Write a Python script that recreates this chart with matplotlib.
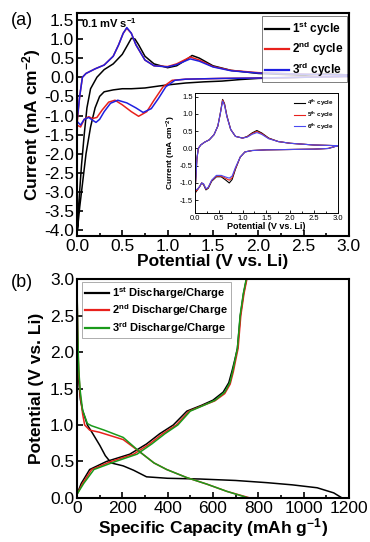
import matplotlib
matplotlib.use("Agg")
import matplotlib.pyplot as plt
from matplotlib.ticker import MultipleLocator

plt.rcParams['font.family'] = ['Liberation Sans', 'DejaVu Sans']
plt.rcParams['mathtext.fontset'] = 'custom'
plt.rcParams['mathtext.rm'] = 'Liberation Sans:bold'
plt.rcParams['mathtext.it'] = 'Liberation Sans:bold'
plt.rcParams['mathtext.bf'] = 'Liberation Sans:bold'
plt.rcParams['mathtext.default'] = 'regular'

# ---------------- (a) CV, cycles 1-3 ----------------
c1_cat_v = [3.0, 2.5, 2.0, 1.8, 1.6, 1.4, 1.2, 1.0, 0.9, 0.75, 0.6, 0.5, 0.4, 0.3, 0.25, 0.2, 0.15, 0.1, 0.06, 0.03, 0.005]
c1_cat_i = [0.03, 0.0, -0.03, -0.06, -0.1, -0.12, -0.15, -0.2, -0.23, -0.28, -0.3, -0.3, -0.33, -0.38, -0.5, -0.8, -1.3, -2.0, -2.8, -3.4, -4.0]
c1_ano_v = [0.005, 0.02, 0.05, 0.08, 0.11, 0.15, 0.22, 0.3, 0.4, 0.5, 0.56, 0.6, 0.64, 0.68, 0.75, 0.85, 1.0, 1.1, 1.2, 1.27, 1.35, 1.5, 1.7, 2.0, 2.5, 2.75, 3.0]
c1_ano_i = [-4.0, -3.3, -2.3, -1.5, -0.8, -0.3, 0.0, 0.2, 0.35, 0.6, 0.85, 1.02, 1.0, 0.85, 0.55, 0.35, 0.25, 0.3, 0.45, 0.57, 0.5, 0.3, 0.18, 0.1, 0.05, 0.09, 0.06]

c2_cat_v = [3.0, 2.0, 1.6, 1.2, 1.05, 0.95, 0.85, 0.77, 0.68, 0.6, 0.5, 0.42, 0.35, 0.28, 0.22, 0.17, 0.13, 0.08, 0.04, 0.0]
c2_cat_i = [0.02, -0.02, -0.03, -0.05, -0.08, -0.25, -0.6, -0.9, -1.02, -0.9, -0.72, -0.6, -0.65, -0.85, -1.05, -1.08, -1.03, -1.1, -1.3, -1.25]
c2_ano_v = [0.0, 0.03, 0.06, 0.1, 0.2, 0.3, 0.4, 0.46, 0.51, 0.55, 0.6, 0.65, 0.75, 0.85, 1.0, 1.1, 1.25, 1.35, 1.5, 1.7, 2.0, 2.5, 3.0]
c2_ano_i = [-1.25, -0.5, 0.0, 0.1, 0.22, 0.32, 0.55, 0.85, 1.15, 1.28, 1.15, 0.85, 0.45, 0.3, 0.28, 0.35, 0.53, 0.45, 0.28, 0.18, 0.12, 0.08, 0.06]

c3_cat_v = [3.0, 2.0, 1.6, 1.2, 1.08, 0.98, 0.9, 0.82, 0.73, 0.65, 0.55, 0.45, 0.37, 0.3, 0.25, 0.21, 0.17, 0.13, 0.08, 0.04, 0.0]
c3_cat_i = [0.02, -0.02, -0.03, -0.05, -0.08, -0.25, -0.55, -0.82, -0.92, -0.8, -0.67, -0.6, -0.68, -0.9, -1.1, -1.18, -1.12, -1.05, -1.1, -1.25, -1.15]
c3_ano_v = [0.0, 0.03, 0.06, 0.1, 0.2, 0.3, 0.4, 0.46, 0.51, 0.55, 0.6, 0.65, 0.75, 0.85, 1.0, 1.1, 1.25, 1.35, 1.5, 1.7, 2.0, 2.5, 3.0]
c3_ano_i = [-1.15, -0.5, 0.0, 0.1, 0.22, 0.32, 0.55, 0.85, 1.15, 1.3, 1.15, 0.85, 0.45, 0.3, 0.27, 0.33, 0.48, 0.42, 0.27, 0.17, 0.11, 0.08, 0.06]

cv_labels = ['1$^{st}$ cycle', '2$^{nd}$ cycle', '3$^{rd}$ cycle']
cv_colors = ['black', '#e8211c', '#1f1fe0']

# ---------------- inset, cycles 4-6 ----------------
c4_ano_v = [0.0, 0.02, 0.04, 0.07, 0.12, 0.2, 0.3, 0.4, 0.48, 0.53, 0.58, 0.62, 0.67, 0.75, 0.85, 1.0, 1.1, 1.2, 1.3, 1.4, 1.55, 1.75, 2.0, 2.5, 3.0]
c4_ano_i = [-1.3, -0.8, -0.3, 0.0, 0.1, 0.18, 0.25, 0.4, 0.65, 1.0, 1.42, 1.3, 0.95, 0.55, 0.35, 0.3, 0.35, 0.45, 0.52, 0.45, 0.3, 0.2, 0.15, 0.1, 0.08]
c4_cat_v = [3.0, 2.8, 2.5, 2.0, 1.5, 1.2, 1.05, 0.95, 0.85, 0.78, 0.72, 0.65, 0.55, 0.45, 0.35, 0.28, 0.23, 0.18, 0.14, 0.1, 0.05, 0.0]
c4_cat_i = [0.08, 0.0, -0.02, -0.03, -0.04, -0.06, -0.1, -0.25, -0.6, -0.9, -1.0, -0.92, -0.82, -0.82, -0.95, -1.15, -1.2, -1.05, -1.0, -1.1, -1.2, -1.3]
c5_ano_i = [-1.25, -0.8, -0.3, 0.0, 0.1, 0.18, 0.25, 0.4, 0.65, 1.0, 1.4, 1.28, 0.93, 0.55, 0.35, 0.3, 0.34, 0.43, 0.49, 0.43, 0.29, 0.2, 0.15, 0.1, 0.08]
c5_cat_i = [0.08, 0.0, -0.02, -0.03, -0.04, -0.06, -0.1, -0.25, -0.58, -0.85, -0.92, -0.87, -0.8, -0.8, -0.93, -1.13, -1.18, -1.03, -1.0, -1.1, -1.2, -1.25]
c6_ano_i = [-1.2, -0.8, -0.3, 0.0, 0.1, 0.18, 0.25, 0.4, 0.65, 1.0, 1.37, 1.25, 0.92, 0.55, 0.35, 0.3, 0.33, 0.41, 0.46, 0.41, 0.28, 0.2, 0.15, 0.1, 0.08]
c6_cat_i = [0.08, 0.0, -0.02, -0.03, -0.04, -0.06, -0.1, -0.25, -0.55, -0.8, -0.86, -0.83, -0.78, -0.78, -0.92, -1.12, -1.17, -1.02, -1.0, -1.1, -1.18, -1.2]
inset_labels = ['4$^{th}$ cycle', '5$^{th}$ cycle', '6$^{th}$ cycle']
inset_colors = ['black', '#e8211c', '#4a4af0']

# ---------------- (b) galvanostatic ----------------
d1_cap = [0, 3, 8, 15, 25, 46, 70, 101, 125, 151, 204, 250, 307, 400, 543, 700, 838, 950, 1060, 1133, 1170]
d1_v = [3.0, 2.2, 1.6, 1.35, 1.2, 1.0, 0.88, 0.72, 0.58, 0.48, 0.44, 0.38, 0.29, 0.27, 0.26, 0.24, 0.21, 0.18, 0.14, 0.07, 0.0]
ch1_cap = [0, 19, 56, 130, 233, 307, 365, 425, 485, 550, 600, 645, 670, 685, 697, 708, 721, 735, 748]
ch1_v = [0.05, 0.2, 0.39, 0.5, 0.6, 0.74, 0.88, 1.0, 1.19, 1.27, 1.34, 1.45, 1.58, 1.75, 1.9, 2.05, 2.5, 2.8, 3.0]

d2_cap = [0, 3, 8, 15, 25, 34, 56, 100, 204, 278, 340, 396, 484, 573, 662, 764]
d2_v = [3.0, 2.2, 1.7, 1.4, 1.15, 1.0, 0.93, 0.9, 0.8, 0.63, 0.48, 0.39, 0.28, 0.19, 0.09, 0.0]
ch2_cap = [0, 25, 65, 150, 250, 320, 378, 438, 495, 558, 608, 652, 676, 690, 701, 711, 723, 737, 750]
ch2_v = [0.05, 0.2, 0.39, 0.5, 0.6, 0.74, 0.88, 1.0, 1.19, 1.27, 1.33, 1.43, 1.56, 1.73, 1.9, 2.05, 2.5, 2.8, 3.0]

d3_cap = [0, 3, 8, 15, 25, 46, 64, 120, 204, 278, 340, 396, 484, 573, 662, 757]
d3_v = [3.0, 2.3, 1.75, 1.45, 1.2, 1.02, 0.99, 0.93, 0.83, 0.63, 0.48, 0.39, 0.28, 0.19, 0.09, 0.0]
ch3_cap = [0, 30, 75, 170, 265, 330, 388, 445, 500, 560, 610, 652, 675, 688, 698, 708, 720, 734, 747]
ch3_v = [0.05, 0.2, 0.39, 0.5, 0.6, 0.74, 0.88, 1.0, 1.19, 1.27, 1.34, 1.45, 1.58, 1.75, 1.9, 2.05, 2.5, 2.8, 3.0]

gc_labels = ['1$^{st}$ Discharge/Charge', '2$^{nd}$ Discharge/Charge', '3$^{rd}$ Discharge/Charge']
gc_colors = ['black', '#e8211c', '#1a9a1a']

fig = plt.figure(figsize=(3.70, 5.42), dpi=100)

def style(ax, lw=1.5, ls=12.5):
    for s in ax.spines.values():
        s.set_linewidth(lw)
    ax.tick_params(which='both', direction='in', top=False, right=False, width=lw * 0.8)
    ax.tick_params(which='major', length=4, labelsize=ls, pad=2)
    ax.tick_params(which='minor', length=2.5)

# (a)
axa = fig.add_axes([0.208, 0.5646, 0.735, 0.4114])
ln1, = axa.plot(c1_cat_v + c1_ano_v, c1_cat_i + c1_ano_i, color=cv_colors[0], lw=1.1)
ln2, = axa.plot(c2_cat_v + c2_ano_v, c2_cat_i + c2_ano_i, color=cv_colors[1], lw=1.1)
ln3, = axa.plot(c3_cat_v + c3_ano_v, c3_cat_i + c3_ano_i, color=cv_colors[2], lw=1.1)
axa.set_xlim(0, 3.0)
axa.set_ylim(-4.15, 1.68)
axa.xaxis.set_minor_locator(MultipleLocator(0.25))
axa.set_yticks([-4.0, -3.5, -3.0, -2.5, -2.0, -1.5, -1.0, -0.5, 0.0, 0.5, 1.0, 1.5])
axa.set_yticklabels(['-4.0', '-3.5', '-3.0', '-2.5', '-2.0', '-1.5', '-1.0', '-0.5', '0.0', '0.5', '1.0', '1.5'])
axa.set_xticks([0, 0.5, 1.0, 1.5, 2.0, 2.5, 3.0])
axa.set_xticklabels(['0.0', '0.5', '1.0', '1.5', '2.0', '2.5', '3.0'])
style(axa)
axa.set_xlabel('Potential (V vs. Li)', fontsize=12.5, fontweight='bold', labelpad=0)
axa.set_ylabel('Current (mA cm$^{-2}$)', fontsize=12.5, fontweight='bold', labelpad=1)
leg = axa.legend([ln1, ln2, ln3], cv_labels, loc='upper right', bbox_to_anchor=(0.993, 0.987),
                 prop={'weight': 'bold', 'size': 8.5}, frameon=True, fancybox=False,
                 edgecolor='#444444', handlelength=2.0, handletextpad=0.25, borderpad=0.3,
                 labelspacing=0.2, borderaxespad=0)
leg.get_frame().set_linewidth(0.6)
for l in leg.get_lines():
    l.set_linewidth(1.6)
axa.text(0.015, 0.985, '0.1 mV s$^{-1}$', transform=axa.transAxes, ha='left', va='top',
         fontsize=8, fontweight='bold')
fig.text(0.03, 0.963, '(a)', fontsize=13, ha='left', va='center')

# inset
axi = fig.add_axes([0.527, 0.607, 0.386, 0.221])
li1, = axi.plot(c4_cat_v + c4_ano_v, c4_cat_i + c4_ano_i, color=inset_colors[0], lw=0.8)
li2, = axi.plot(c4_cat_v + c4_ano_v, c5_cat_i + c5_ano_i, color=inset_colors[1], lw=0.8)
li3, = axi.plot(c4_cat_v + c4_ano_v, c6_cat_i + c6_ano_i, color=inset_colors[2], lw=0.8)
axi.set_xlim(0, 3.0)
axi.set_ylim(-1.87, 1.6)
axi.set_xticks([0, 0.5, 1.0, 1.5, 2.0, 2.5, 3.0])
axi.set_xticklabels(['0.0', '0.5', '1.0', '1.5', '2.0', '2.5', '3.0'])
axi.set_yticks([-1.5, -1.0, -0.5, 0.0, 0.5, 1.0, 1.5])
axi.set_yticklabels(['-1.5', '-1.0', '-0.5', '0.0', '0.5', '1.0', '1.5'])
axi.xaxis.set_minor_locator(MultipleLocator(0.25))
for s in axi.spines.values():
    s.set_linewidth(0.7)
axi.tick_params(which='both', direction='in', width=0.6, labelsize=5.5, pad=1.5)
axi.tick_params(which='major', length=2.5)
axi.tick_params(which='minor', length=1.5)
axi.set_xlabel('Potential (V vs. Li)', fontsize=6.5, fontweight='bold', labelpad=0)
axi.set_ylabel('Current (mA cm$^{-2}$)', fontsize=6, fontweight='bold', labelpad=1)
legi = axi.legend([li1, li2, li3], inset_labels, loc='upper right', bbox_to_anchor=(0.99, 0.98),
                  prop={'weight': 'bold', 'size': 4.5}, frameon=False, handlelength=1.8,
                  handletextpad=0.3, labelspacing=0.2, borderaxespad=0)

# (b)
axb = fig.add_axes([0.208, 0.0812, 0.735, 0.404])
lb1, = axb.plot(d1_cap, d1_v, color=gc_colors[0], lw=1.1)
axb.plot(ch1_cap, ch1_v, color=gc_colors[0], lw=1.1)
lb2, = axb.plot(d2_cap, d2_v, color=gc_colors[1], lw=1.1)
axb.plot(ch2_cap, ch2_v, color=gc_colors[1], lw=1.1)
lb3, = axb.plot(d3_cap, d3_v, color=gc_colors[2], lw=1.1)
axb.plot(ch3_cap, ch3_v, color=gc_colors[2], lw=1.1)
axb.set_xlim(0, 1200)
axb.set_ylim(0, 3.0)
axb.xaxis.set_major_locator(MultipleLocator(200))
axb.xaxis.set_minor_locator(MultipleLocator(100))
axb.set_yticks([0, 0.5, 1.0, 1.5, 2.0, 2.5, 3.0])
axb.set_yticklabels(['0.0', '0.5', '1.0', '1.5', '2.0', '2.5', '3.0'])
style(axb)
axb.set_xlabel('Specific Capacity (mAh g$^{-1}$)', fontsize=12.5, fontweight='bold', labelpad=0)
axb.set_ylabel('Potential (V vs. Li)', fontsize=12.5, fontweight='bold', labelpad=4)
legb = axb.legend([lb1, lb2, lb3], gc_labels, loc='upper left', bbox_to_anchor=(0.018, 0.986),
                  prop={'weight': 'bold', 'size': 8}, frameon=True, fancybox=False,
                  edgecolor='#888888', handlelength=2.2, handletextpad=0.3, borderpad=0.25,
                  labelspacing=0.15, borderaxespad=0)
legb.get_frame().set_linewidth(0.6)
for l in legb.get_lines():
    l.set_linewidth(1.6)
fig.text(0.03, 0.478, '(b)', fontsize=13, ha='left', va='center')

fig.savefig('out.png', dpi=100)
